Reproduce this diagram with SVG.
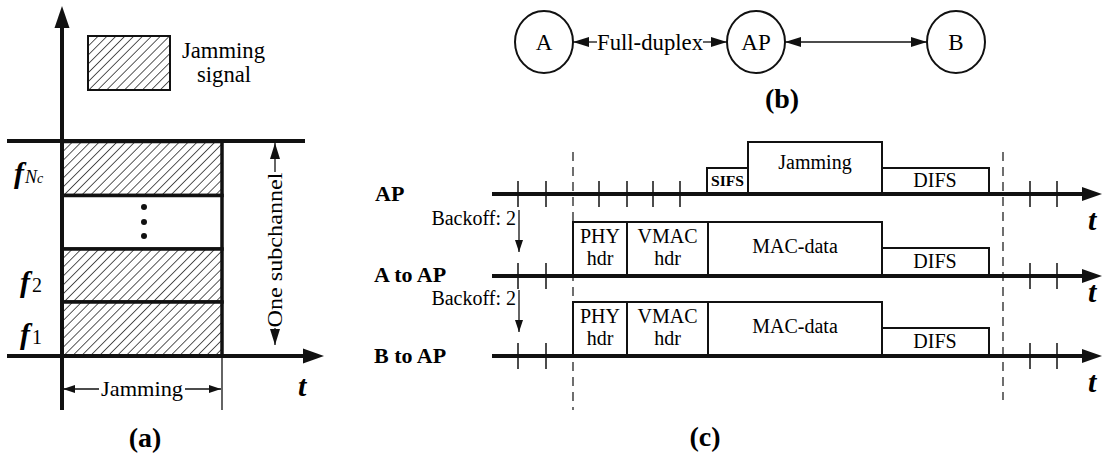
<svg xmlns="http://www.w3.org/2000/svg" width="1103" height="458" viewBox="0 0 1103 458">
<style>
text{font-family:"Liberation Serif","Times New Roman",serif;fill:#000}
.lbl{font-size:20px}
.bl{font-size:22px;font-weight:bold}
.cap{font-size:28px;font-weight:bold}
.fi{font-size:30px;font-weight:bold;font-style:italic}
.sub{font-size:18px}
.axis{stroke:#111;stroke-width:4;fill:none}
.tick{stroke:#111;stroke-width:1.5}
.box{stroke:#111;stroke-width:2;fill:#fff}
.thin{stroke:#111;stroke-width:1.3;fill:none}
.dash{stroke:#222;stroke-width:1.3;stroke-dasharray:9,6;fill:none}
.node{stroke:#111;stroke-width:2;fill:#fff}
</style>
<defs>
<pattern id="hatch" patternUnits="userSpaceOnUse" width="6.3" height="6.3" patternTransform="rotate(45)">
<rect width="6.3" height="6.3" fill="#fff"/>
<line x1="0" y1="0" x2="0" y2="6.3" stroke="#222" stroke-width="1.5"/>
</pattern>
<marker id="ah" viewBox="0 0 16 10" refX="16" refY="5" markerWidth="16" markerHeight="10" markerUnits="userSpaceOnUse" orient="auto-start-reverse">
<path d="M0,0 L16,5 L0,10 z" fill="#111"/>
</marker>
<marker id="ahs" viewBox="0 0 12 8" refX="12" refY="4" markerWidth="12" markerHeight="8" markerUnits="userSpaceOnUse" orient="auto-start-reverse">
<path d="M0,0 L12,4 L0,8 z" fill="#111"/>
</marker>
</defs>

<!-- Panel (a) -->
<g id="panel-a">
<g id="legend">
<rect x="88" y="36" width="82" height="54" fill="url(#hatch)" stroke="#111" stroke-width="2"/>
<text x="182" y="58" font-size="23" textLength="83" lengthAdjust="spacingAndGlyphs">Jamming</text>
<text x="197" y="82" font-size="23" textLength="54" lengthAdjust="spacingAndGlyphs">signal</text>
</g>
<g id="subchannels">
<rect x="62" y="141.5" width="160" height="54" fill="url(#hatch)" stroke="#111" stroke-width="3.5"/>
<rect x="62" y="195.5" width="160" height="53.5" fill="#fff" stroke="#111" stroke-width="3.5"/>
<rect x="62" y="249" width="160" height="53" fill="url(#hatch)" stroke="#111" stroke-width="3.5"/>
<rect x="62" y="302" width="160" height="54" fill="url(#hatch)" stroke="#111" stroke-width="3.5"/>
<circle cx="144" cy="207" r="3" fill="#111"/>
<circle cx="144" cy="222" r="3" fill="#111"/>
<circle cx="144" cy="236" r="3" fill="#111"/>
</g>
<g id="axes-a">
<line x1="7" y1="141" x2="305" y2="141" class="axis"/>
<line x1="7" y1="356" x2="306" y2="356" class="axis"/>
<polygon points="324,356 303,348.5 303,363.5" fill="#111"/>
<line x1="62" y1="410" x2="62" y2="26" class="axis"/>
<polygon points="62,6 54.5,28 69.5,28" fill="#111"/>
<line x1="222" y1="356" x2="222" y2="410" class="thin"/>
</g>
<g id="freq-labels">
<text class="fi" x="14" y="183">f<tspan class="sub" font-weight="normal" dx="1">N</tspan><tspan font-size="14" font-weight="normal">c</tspan></text>
<text class="fi" x="20" y="292">f<tspan font-size="20" font-style="normal" font-weight="normal" dx="2">2</tspan></text>
<text class="fi" x="20" y="344">f<tspan font-size="20" font-style="normal" font-weight="normal" dx="2">1</tspan></text>
<text class="fi" x="298" y="396">t</text>
</g>
<g id="subchannel-dim">
<line x1="275" y1="172" x2="275" y2="143" class="thin" marker-end="url(#ah)"/>
<line x1="275" y1="328" x2="275" y2="345" class="thin" marker-end="url(#ah)"/>
<text x="0" y="0" font-size="22" text-anchor="middle" textLength="155" lengthAdjust="spacingAndGlyphs" transform="translate(282,250) rotate(-90)">One subchannel</text>
</g>
<g id="jamming-dim">
<line x1="99" y1="389" x2="63" y2="389" class="thin" marker-end="url(#ahs)"/>
<line x1="185" y1="389" x2="221" y2="389" class="thin" marker-end="url(#ahs)"/>
<text x="101" y="396" font-size="22" textLength="82" lengthAdjust="spacingAndGlyphs">Jamming</text>
</g>
<text class="cap" x="145" y="447" text-anchor="middle">(a)</text>
</g>

<!-- Panel (b) -->
<g id="panel-b">
<g id="node-A"><ellipse cx="544" cy="42" rx="29" ry="31" class="node"/><text x="544" y="50" text-anchor="middle" font-size="23">A</text></g>
<g id="node-AP"><ellipse cx="756" cy="42" rx="29" ry="31" class="node"/><text x="756" y="50" text-anchor="middle" font-size="23">AP</text></g>
<g id="node-B"><ellipse cx="956" cy="42" rx="29" ry="31" class="node"/><text x="956" y="50" text-anchor="middle" font-size="23">B</text></g>
<g id="connectors-b">
<line x1="597" y1="42" x2="573" y2="42" class="thin" marker-end="url(#ah)"/>
<line x1="703" y1="42" x2="727" y2="42" class="thin" marker-end="url(#ah)"/>
<text x="597" y="50" font-size="23" textLength="106" lengthAdjust="spacingAndGlyphs">Full-duplex</text>
<line x1="785" y1="42" x2="927" y2="42" class="thin" marker-start="url(#ah)" marker-end="url(#ah)"/>
</g>
<text class="cap" x="782" y="108" text-anchor="middle">(b)</text>
</g>

<!-- Panel (c) -->
<g id="panel-c">
<line x1="573" y1="152" x2="573" y2="410" class="dash"/>
<line x1="1003" y1="152" x2="1003" y2="400" class="dash"/>

<g id="row-AP">
<text class="bl" x="375" y="201">AP</text>
<rect x="707" y="168" width="41" height="26" class="box"/>
<rect x="748" y="142" width="134" height="52" class="box"/>
<rect x="882" y="168" width="107" height="26" class="box"/>
<text x="711" y="186" font-size="15" font-weight="bold" textLength="33" lengthAdjust="spacingAndGlyphs">SIFS</text>
<text class="lbl" x="815" y="169" text-anchor="middle">Jamming</text>
<text class="lbl" x="935" y="187" text-anchor="middle">DIFS</text>
<line x1="492" y1="194" x2="1085" y2="194" class="axis"/>
<polygon points="1102,194 1082,187 1082,201" fill="#111"/>
<g class="tick">
<line x1="518" y1="181" x2="518" y2="207"/><line x1="546" y1="181" x2="546" y2="207"/>
<line x1="599" y1="181" x2="599" y2="207"/><line x1="627" y1="181" x2="627" y2="207"/>
<line x1="653" y1="181" x2="653" y2="207"/><line x1="680" y1="181" x2="680" y2="207"/>
<line x1="1030" y1="181" x2="1030" y2="207"/><line x1="1057" y1="181" x2="1057" y2="207"/>
</g>
<text class="fi" x="1088" y="230" font-size="28">t</text>
</g>

<g id="row-A">
<text class="lbl" x="516" y="225" text-anchor="end" font-size="18">Backoff: 2</text>
<line x1="519" y1="210" x2="519" y2="252" class="thin" marker-end="url(#ahs)"/>
<text class="bl" x="374" y="282">A to AP</text>
<rect x="573" y="222" width="54" height="54" class="box"/>
<rect x="627" y="222" width="81" height="54" class="box"/>
<rect x="708" y="222" width="174" height="54" class="box"/>
<rect x="882" y="248" width="107" height="28" class="box"/>
<text class="lbl" x="600" y="243" text-anchor="middle">PHY</text>
<text class="lbl" x="600" y="265" text-anchor="middle">hdr</text>
<text class="lbl" x="667.5" y="243" text-anchor="middle">VMAC</text>
<text class="lbl" x="667.5" y="265" text-anchor="middle">hdr</text>
<text class="lbl" x="795" y="253" text-anchor="middle">MAC-data</text>
<text class="lbl" x="935" y="268" text-anchor="middle">DIFS</text>
<line x1="492" y1="276" x2="1085" y2="276" class="axis"/>
<polygon points="1102,276 1082,269 1082,283" fill="#111"/>
<g class="tick">
<line x1="518" y1="263" x2="518" y2="289"/><line x1="546" y1="263" x2="546" y2="289"/>
<line x1="1030" y1="263" x2="1030" y2="289"/><line x1="1057" y1="263" x2="1057" y2="289"/>
</g>
<text class="fi" x="1088" y="302" font-size="28">t</text>
</g>

<g id="row-B">
<text class="lbl" x="516" y="305" text-anchor="end" font-size="18">Backoff: 2</text>
<line x1="519" y1="290" x2="519" y2="332" class="thin" marker-end="url(#ahs)"/>
<text class="bl" x="374" y="363">B to AP</text>
<rect x="573" y="302" width="54" height="54" class="box"/>
<rect x="627" y="302" width="81" height="54" class="box"/>
<rect x="708" y="302" width="174" height="54" class="box"/>
<rect x="882" y="328" width="107" height="28" class="box"/>
<text class="lbl" x="600" y="323" text-anchor="middle">PHY</text>
<text class="lbl" x="600" y="345" text-anchor="middle">hdr</text>
<text class="lbl" x="667.5" y="323" text-anchor="middle">VMAC</text>
<text class="lbl" x="667.5" y="345" text-anchor="middle">hdr</text>
<text class="lbl" x="795" y="333" text-anchor="middle">MAC-data</text>
<text class="lbl" x="935" y="348" text-anchor="middle">DIFS</text>
<line x1="492" y1="356" x2="1085" y2="356" class="axis"/>
<polygon points="1102,356 1082,349 1082,363" fill="#111"/>
<g class="tick">
<line x1="518" y1="343" x2="518" y2="369"/><line x1="546" y1="343" x2="546" y2="369"/>
<line x1="1030" y1="343" x2="1030" y2="369"/><line x1="1057" y1="343" x2="1057" y2="369"/>
</g>
<text class="fi" x="1088" y="392" font-size="28">t</text>
</g>
<text class="cap" x="705" y="446" text-anchor="middle">(c)</text>
</g>
</svg>
